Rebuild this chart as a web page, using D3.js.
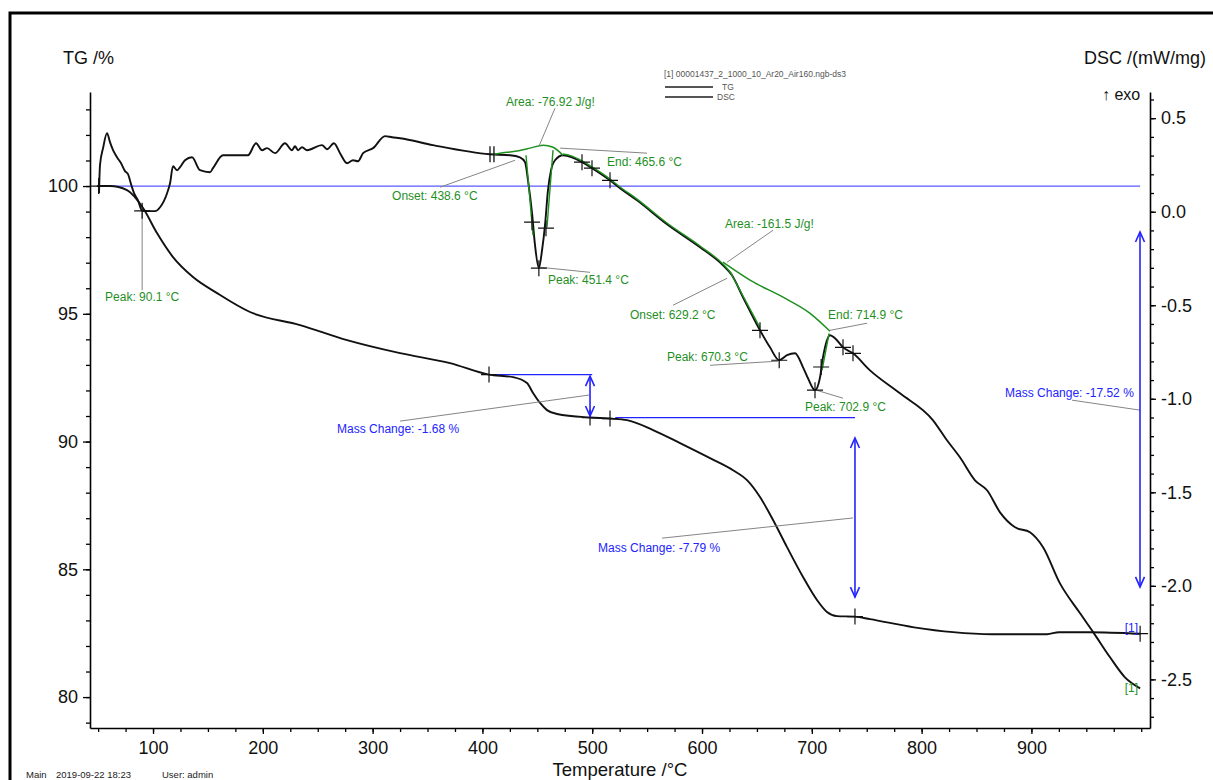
<!DOCTYPE html>
<html>
<head>
<meta charset="utf-8">
<script src="https://cdn.jsdelivr.net/npm/d3@7"></script>
<style>
html,body{margin:0;padding:0;background:#fff;overflow:hidden}
svg{display:block}
text{font-family:"Liberation Sans",Arial,Helvetica,sans-serif}
</style>
</head>
<body>
<svg id="chart" width="1213" height="780"></svg>
<script>
// ---- TG curve: temperature (°C) / mass (%) ----
const tgTemp = [49.0, 60.8, 76.3, 90.9, 103.6, 118.2, 136.4, 158.3, 188.3, 233.9, 276.7, 325.0, 370.5, 406.0,
  427.9, 440.6, 446.1, 452.5, 458.8, 468.0, 498.0, 516.2, 531.7, 555.4, 580.0, 607.3, 628.2, 641.0, 652.8,
  664.7, 677.4, 692.0, 704.7, 713.8, 722.9, 739.3, 753.0, 793.1, 828.6, 864.1, 914.2, 925.1, 953.4, 999.0];
const tgMass = [100.00, 100.00, 99.84, 99.14, 98.16, 97.22, 96.44, 95.81, 95.07, 94.56, 93.97, 93.46, 93.07, 92.62,
  92.52, 92.29, 91.90, 91.51, 91.23, 91.08, 90.94, 90.90, 90.84, 90.45, 89.94, 89.35, 88.88, 88.49, 87.83,
  86.93, 85.87, 84.70, 83.80, 83.33, 83.17, 83.15, 83.05, 82.73, 82.54, 82.46, 82.46, 82.54, 82.54, 82.48];

// ---- DSC curve: temperature (°C) / heat flow (mW/mg) ----
const dscTemp = [50.8, 51.7, 54.5, 58.1, 60.8, 63.6, 67.2, 70.9, 74.5, 77.2, 80.0, 82.7, 86.3, 90.1, 97.3, 101.8,
  106.4, 112.8, 115.5, 118.2, 121.9, 124.6, 129.1, 135.5, 142.8, 151.9, 154.6, 163.8, 186.5, 193.8, 199.3, 203.8,
  211.1, 220.2, 226.6, 229.3, 232.1, 235.7, 240.3, 253.9, 258.5, 264.8, 270.3, 276.7, 282.1, 286.7, 291.3, 300.4,
  311.3, 317.7, 325.0, 355.0, 406.9, 425.1, 434.2, 438.8, 441.5, 445.2, 447.9, 451.4, 454.3, 457.0, 459.7, 462.5,
  466.1, 473.4, 481.6, 490.7, 499.8, 516.2, 525.3, 540.8, 568.1, 598.2, 619.1, 627.3, 637.3, 652.8, 661.9, 670.3,
  677.4, 684.7, 692.0, 696.5, 702.9, 707.5, 710.2, 713.8, 716.6, 721.1, 728.4, 737.5, 753.0, 780.3, 810.4, 823.1,
  834.9, 848.6, 859.6, 871.4, 885.1, 898.7, 910.6, 926.0, 944.3, 957.0, 971.6, 985.2, 999.0];
const dscFlow = [0.099, 0.249, 0.340, 0.420, 0.372, 0.329, 0.291, 0.259, 0.217, 0.201, 0.147, 0.099, 0.061, 0.005, 0.003, 0.003,
  0.024, 0.099, 0.152, 0.243, 0.222, 0.238, 0.275, 0.291, 0.222, 0.211, 0.233, 0.302, 0.302, 0.366, 0.329, 0.340,
  0.313, 0.366, 0.329, 0.350, 0.329, 0.345, 0.329, 0.356, 0.334, 0.366, 0.313, 0.259, 0.275, 0.270, 0.313, 0.340,
  0.404, 0.398, 0.393, 0.356, 0.307, 0.302, 0.291, 0.265, 0.168, -0.008, -0.179, -0.302, -0.206, -0.072, 0.115, 0.222,
  0.275, 0.302, 0.291, 0.265, 0.233, 0.168, 0.126, 0.061, -0.067, -0.190, -0.286, -0.340, -0.457, -0.634, -0.725, -0.794,
  -0.767, -0.757, -0.832, -0.890, -0.954, -0.885, -0.778, -0.687, -0.660, -0.676, -0.725, -0.757, -0.848, -0.971, -1.115, -1.222,
  -1.313, -1.436, -1.489, -1.607, -1.687, -1.714, -1.794, -1.987, -2.147, -2.254, -2.382, -2.489, -2.548];

// ---- integration baselines and tangents of the DSC peaks ----
const base1Temp = [409.5, 416.0, 429.7, 443.4, 455.2, 464.3, 473.4];
const base1Flow = [0.307, 0.313, 0.323, 0.340, 0.356, 0.345, 0.302];
const base2Temp = [619.1, 643.7, 673.8, 698.4, 716.6];
const base2Flow = [-0.270, -0.366, -0.457, -0.543, -0.639];
const tangents = [ // [T1, DSC1, T2, DSC2]
  [439.7, 0.302, 446.1, -0.126],
  [464.3, 0.329, 458.8, -0.083],
  [625.5, -0.321, 652.8, -0.620],
  [715.7, -0.650, 709.3, -0.848]
];

// ---- tick values ----
const tempTicks = [100, 200, 300, 400, 500, 600, 700, 800, 900];
const tgTicks = [80, 85, 90, 95, 100];
const dscTicks = [0.5, 0.0, -0.5, -1.0, -1.5, -2.0, -2.5];

// ---- green DSC annotations: text, text T, text DSC, leader T1, DSC1, T2, DSC2 ----
const dscLabels = ["Peak: 90.1 °C", "Area: -76.92 J/g!", "Onset: 438.6 °C", "End: 465.6 °C", "Peak: 451.4 °C",
  "Area: -161.5 J/g!", "Onset: 629.2 °C", "End: 714.9 °C", "Peak: 670.3 °C", "Peak: 702.9 °C"];
const dscLabelPos = [[90.1, -0.479, "middle"], [421.5, 0.564], [317.7, 0.061], [513.5, 0.243], [459.7, -0.388],
  [621.0, -0.088], [534.4, -0.575], [714.8, -0.575], [568.1, -0.799], [693.8, -1.067]];
const dscLeaders = [[90.1, -0.003, 90.1, -0.420], [466.1, 0.553, 451.5, 0.350], [361.4, 0.131, 429.7, 0.275],
  [470.7, 0.340, 549.9, 0.313], [452.5, -0.297, 498.0, -0.324], [664.7, -0.099, 622.8, -0.270],
  [573.6, -0.500, 622.8, -0.356], [716.6, -0.634, 750.3, -0.596], [607.3, -0.821, 669.2, -0.799],
  [704.7, -0.955, 728.4, -0.997]];

// ---- mass change steps (TG) ----
const massLabels = ["Mass Change: -1.68 %", "Mass Change: -7.79 %", "Mass Change: -17.52 %"];
const massLabelPos = [[267.6, 90.33], [505.3, 85.68], [876.0, 91.74]];
const massLeaders = [[325.0, 90.80, 497.1, 91.82], [563.6, 86.22, 737.5, 87.01], [937.0, 91.62, 998.9, 91.23]];
const massLevels = [[406.0, 500.0, 92.62], [521.0, 739.3, 90.94], [49.0, 999.0, 100.0]]; // T from, T to, %
const massArrows = [[498.0, 92.56, 91.00], [739.3, 90.14, 83.91], [998.9, 98.20, 84.31]];   // T, top %, bottom %

// ---- evaluation markers ----
const tgMarks = [[50.5, 100.0], [406.0, 92.62], [498.0, 90.94], [516.2, 90.90], [739.3, 83.15], [999.0, 82.48]];
const dscMarks = [[90.1, 0.005], [445.2, -0.056], [457.9, -0.088], [451.4, -0.302], [490.7, 0.265], [499.8, 0.233],
  [516.2, 0.168], [652.8, -0.634], [670.3, -0.794], [702.9, -0.954], [708.5, -0.830], [728.4, -0.725], [737.5, -0.757]];
const dscBars = [406.9, 410.5];

// ---------------------------------------------------------------
const svg = d3.select("#chart");
const L = 90, R = 1150, T = 92, B = 728;
const green = "#1f8f1f", blue = "#2323ff", grey = "#858585";

const x = d3.scaleLinear().domain([42.6, 1008]).range([L, R]);
const yTG = d3.scaleLinear().domain([78.79, 103.68]).range([B, T]);
const yDSC = d3.scaleLinear().domain([-2.76, 0.64]).range([B, T]);

// outer frame
svg.append("rect").attr("x", 10).attr("y", 13).attr("width", 1240).attr("height", 800)
  .attr("fill", "none").attr("stroke", "#000").attr("stroke-width", 3);

// axes
function styleAxis(g) {
  g.selectAll("path.domain").attr("stroke", "#000").attr("stroke-width", 1.6);
  g.selectAll(".tick line").attr("stroke", "#000").attr("stroke-width", 1.3);
  g.selectAll(".tick text").attr("font-size", 18).attr("fill", "#111")
    .attr("font-family", "'Liberation Sans', Arial, sans-serif");
}
const gl = svg.append("g").attr("transform", `translate(${L},0)`);
gl.call(d3.axisLeft(yTG).tickValues(d3.range(79, 104)).tickSize(4).tickSizeOuter(0).tickFormat(""));
gl.call(g => styleAxis(g));
const gl2 = svg.append("g").attr("transform", `translate(${L},0)`);
gl2.call(d3.axisLeft(yTG).tickValues(tgTicks).tickSize(7).tickPadding(5).tickSizeOuter(0));
gl2.select("path.domain").remove();
styleAxis(gl2);

const gb = svg.append("g").attr("transform", `translate(0,${B})`);
gb.call(d3.axisBottom(x).tickValues(d3.range(50, 1001, 25)).tickSize(4).tickSizeOuter(0).tickFormat(""));
styleAxis(gb);
const gb2 = svg.append("g").attr("transform", `translate(0,${B})`);
gb2.call(d3.axisBottom(x).tickValues(tempTicks).tickSize(6).tickPadding(7).tickSizeOuter(0));
gb2.select("path.domain").remove();
styleAxis(gb2);

const gr = svg.append("g").attr("transform", `translate(${R},0)`);
gr.call(d3.axisRight(yDSC).tickValues(d3.range(-27, 7).map(v => v / 10)).tickSize(4).tickSizeOuter(0).tickFormat(""));
styleAxis(gr);
const gr2 = svg.append("g").attr("transform", `translate(${R},0)`);
gr2.call(d3.axisRight(yDSC).tickValues(dscTicks).tickSize(6).tickPadding(5).tickSizeOuter(0)
  .tickFormat(d => d.toFixed(1)));
gr2.select("path.domain").remove();
styleAxis(gr2);

// axis titles
svg.append("text").attr("x", 63).attr("y", 64).attr("font-size", 18).attr("fill", "#111").text("TG /%");
svg.append("text").attr("x", 1084).attr("y", 64).attr("font-size", 18).attr("fill", "#111").text("DSC /(mW/mg)");
svg.append("text").attr("x", 1102).attr("y", 100).attr("font-size", 16).attr("fill", "#111").text("↑ exo");
svg.append("text").attr("x", 620).attr("y", 776).attr("text-anchor", "middle").attr("font-size", 18.5)
  .attr("fill", "#111").text("Temperature /°C");
const foot = svg.append("g").attr("font-size", 9.5).attr("fill", "#222");
foot.append("text").attr("x", 26).attr("y", 778).text("Main");
foot.append("text").attr("x", 56).attr("y", 778).text("2019-09-22 18:23");
foot.append("text").attr("x", 162).attr("y", 778).text("User: admin");

// legend
const lg = svg.append("g").attr("font-size", 8.5).attr("fill", "#555");
lg.append("text").attr("x", 664).attr("y", 77).text("[1] 00001437_2_1000_10_Ar20_Air160.ngb-ds3");
[[87, "TG", 722], [97, "DSC", 717]].forEach(([yy, name, tx]) => {
  lg.append("line").attr("x1", 665).attr("x2", 713).attr("y1", yy).attr("y2", yy)
    .attr("stroke", "#555").attr("stroke-width", 2.2);
  lg.append("text").attr("x", tx).attr("y", yy + 3).text(name);
});

// mass change reference levels (blue)
massLevels.forEach(([t1, t2, v], i) => {
  svg.append("line").attr("x1", x(t1)).attr("x2", x(t2)).attr("y1", yTG(v)).attr("y2", yTG(v))
    .attr("stroke", i === 2 ? "#5a5aff" : blue).attr("stroke-width", 1.3);
});

const lineTG = d3.line().x(d => x(d[0])).y(d => yTG(d[1])).curve(d3.curveMonotoneX);
const lineDSC = d3.line().x(d => x(d[0])).y(d => yDSC(d[1])).curve(d3.curveMonotoneX);
const tgPts = tgTemp.map((t, i) => [t, tgMass[i]]);
const dscPts = dscTemp.map((t, i) => [t, dscFlow[i]]);

// TG and DSC curves
svg.append("path").attr("d", lineTG(tgPts)).attr("fill", "none").attr("stroke", "#111").attr("stroke-width", 1.9);
svg.append("path").attr("d", lineDSC(dscPts)).attr("fill", "none").attr("stroke", "#111").attr("stroke-width", 1.9);

// DSC evaluation: baselines, tangents
svg.append("path").attr("d", lineDSC(base1Temp.map((t, i) => [t, base1Flow[i]])))
  .attr("fill", "none").attr("stroke", green).attr("stroke-width", 1.5);
svg.append("path").attr("d", lineDSC(dscPts.filter(d => d[0] >= 473.4 && d[0] <= 627.3)))
  .attr("transform", "translate(0,-1.2)").attr("fill", "none").attr("stroke", green).attr("stroke-width", 1.4);
svg.append("path").attr("d", lineDSC(base2Temp.map((t, i) => [t, base2Flow[i]])))
  .attr("fill", "none").attr("stroke", green).attr("stroke-width", 1.5);
tangents.forEach(([t1, v1, t2, v2]) => {
  svg.append("line").attr("x1", x(t1)).attr("y1", yDSC(v1)).attr("x2", x(t2)).attr("y2", yDSC(v2))
    .attr("stroke", green).attr("stroke-width", 1.4);
});

// leader lines
dscLeaders.forEach(([t1, v1, t2, v2]) => {
  svg.append("line").attr("x1", x(t1)).attr("y1", yDSC(v1)).attr("x2", x(t2)).attr("y2", yDSC(v2))
    .attr("stroke", grey).attr("stroke-width", 1);
});
massLeaders.forEach(([t1, v1, t2, v2]) => {
  svg.append("line").attr("x1", x(t1)).attr("y1", yTG(v1)).attr("x2", x(t2)).attr("y2", yTG(v2))
    .attr("stroke", grey).attr("stroke-width", 1);
});

// markers
function cross(cx, cy) {
  svg.append("path").attr("d", `M${cx - 8},${cy}H${cx + 8}M${cx},${cy - 8}V${cy + 8}`)
    .attr("stroke", "#111").attr("stroke-width", 1.2).attr("fill", "none");
}
tgMarks.forEach(([t, v]) => cross(x(t), yTG(v)));
dscMarks.forEach(([t, v]) => cross(x(t), yDSC(v)));
dscBars.forEach(t => {
  const cx = x(t), cy = yDSC(0.307);
  svg.append("line").attr("x1", cx).attr("x2", cx).attr("y1", cy - 8).attr("y2", cy + 8)
    .attr("stroke", "#111").attr("stroke-width", 1.3);
});

// mass change double arrows
massArrows.forEach(([t, v1, v2]) => {
  const cx = x(t), y1 = yTG(v1), y2 = yTG(v2);
  const g = svg.append("g").attr("stroke", blue).attr("stroke-width", 1.6).attr("fill", "none");
  g.append("line").attr("x1", cx).attr("x2", cx).attr("y1", y1).attr("y2", y2);
  g.append("path").attr("d", `M${cx - 4.5},${y1 + 10}L${cx},${y1}L${cx + 4.5},${y1 + 10}`);
  g.append("path").attr("d", `M${cx - 4.5},${y2 - 10}L${cx},${y2}L${cx + 4.5},${y2 - 10}`);
});

// labels
dscLabels.forEach((s, i) => {
  const p = dscLabelPos[i];
  svg.append("text").attr("x", x(p[0])).attr("y", yDSC(p[1])).attr("text-anchor", p[2] || "start")
    .attr("font-size", 12).attr("fill", green).text(s);
});
massLabels.forEach((s, i) => {
  const p = massLabelPos[i];
  svg.append("text").attr("x", x(p[0])).attr("y", yTG(p[1])).attr("font-size", 12).attr("fill", blue).text(s);
});

// curve end tags
const tgEnd = tgPts[tgPts.length - 1], dscEnd = dscPts[dscPts.length - 1];
svg.append("text").attr("x", x(tgEnd[0]) - 2).attr("y", yTG(tgEnd[1]) - 2).attr("text-anchor", "end")
  .attr("font-size", 12).attr("fill", blue).text("[1]");
svg.append("text").attr("x", x(dscEnd[0]) - 2).attr("y", yDSC(dscEnd[1]) + 4).attr("text-anchor", "end")
  .attr("font-size", 12).attr("fill", green).text("[1]");
</script>
</body>
</html>
